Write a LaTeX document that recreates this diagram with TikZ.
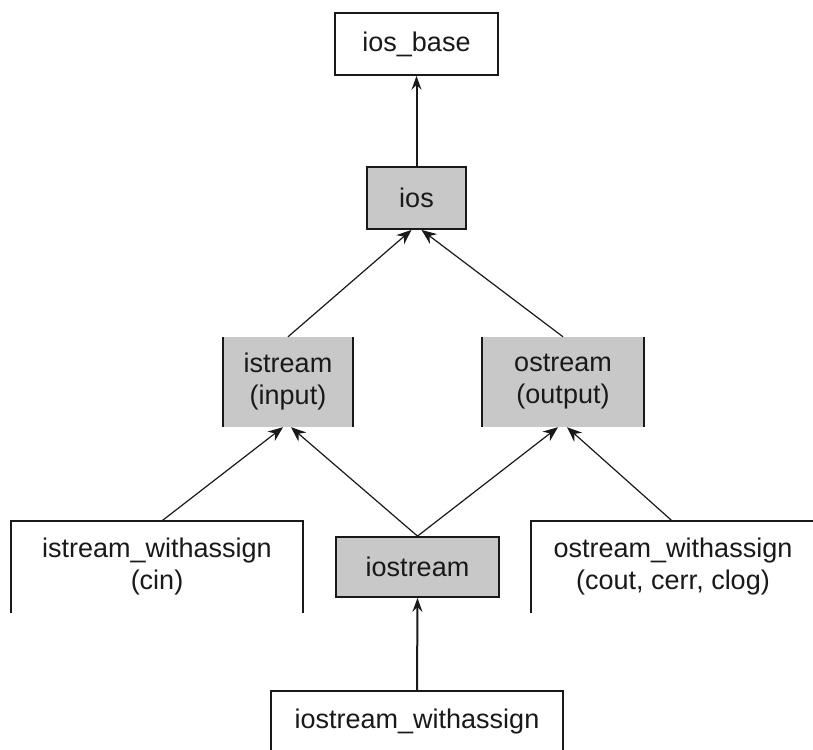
\documentclass[tikz,border=0pt]{standalone}
\usepackage{fontspec}
\setmainfont{Liberation Sans}
\usetikzlibrary{arrows.meta}
\definecolor{boxgray}{RGB}{200,200,200}
\definecolor{ink}{RGB}{25,25,25}
\begin{document}
\begin{tikzpicture}[x=1pt,y=-1pt,
  lbl/.style={inner sep=0pt, align=center, font=\fontsize{27}{32}\selectfont, text=ink},
  graybox/.style={lbl, fill=boxgray},
  whitebox/.style={lbl, fill=white},
  border/.style={draw=ink, line width=1.8pt},
  link/.style={draw=ink, line width=1.2pt, -{Stealth[length=15pt,width=12pt,inset=5pt]}},
  vlink/.style={draw=ink, line width=2pt, -{Stealth[length=14pt,width=10pt,inset=5pt]}}]
\useasboundingbox (0,0) rectangle (813,749);
\fill[white] (0,0) rectangle (813,749);

% top
\node[whitebox, border, minimum width=163pt, minimum height=62pt] (iosbase) at (416.5,44) {ios\_base};
\node[graybox, border, minimum width=99pt, minimum height=62pt] (ios) at (416.5,198) {ios};

% middle
\node[graybox, minimum width=130pt, minimum height=90pt] (istream) at (288,382) {istream\\(input)};
\draw[border] (istream.north west) -- (istream.south west);
\draw[border] (istream.north east) -- (istream.south east);
\node[graybox, minimum width=162pt, minimum height=90pt] (ostream) at (563,382) {ostream\\(output)};
\draw[border] (ostream.north west) -- (ostream.south west);
\draw[border] (ostream.north east) -- (ostream.south east);

% lower row
\node[whitebox, minimum width=292pt, minimum height=92pt] (isw) at (157,567) {istream\_withassign\\(cin)};
\draw[border] (isw.south west) -- (isw.north west) -- (isw.north east) -- (isw.south east);
\node[graybox, border, minimum width=163pt, minimum height=60pt] (iostream) at (417.5,567) {iostream};
\node[whitebox, minimum width=284pt, minimum height=92pt] (osw) at (673,567) {ostream\_withassign\\(cout, cerr, clog)};
\draw[border] (osw.south west) -- (osw.north west) -- (osw.north east) -- (osw.south east);

% bottom
\node[whitebox, minimum width=292pt, minimum height=62pt] (iosw) at (417,722) {iostream\_withassign};
\draw[border] (iosw.south west) -- (iosw.north west) -- (iosw.north east) -- (iosw.south east);

% connectors
\draw[vlink] (ios.north) -- (iosbase.south);
\draw[link] (istream.north) -- ([xshift=-5pt]ios.south);
\draw[link] (ostream.north) -- ([xshift=5pt]ios.south);
\draw[link] ([xshift=5pt]isw.north) -- ([xshift=-5pt]istream.south);
\draw[link] (iostream.north) -- ([xshift=3pt]istream.south);
\draw[link] (iostream.north) -- ([xshift=-5pt]ostream.south);
\draw[link] ([xshift=-1pt]osw.north) -- ([xshift=4pt]ostream.south);
\draw[vlink] (iosw.north) -- (iostream.south);
\end{tikzpicture}
\end{document}
